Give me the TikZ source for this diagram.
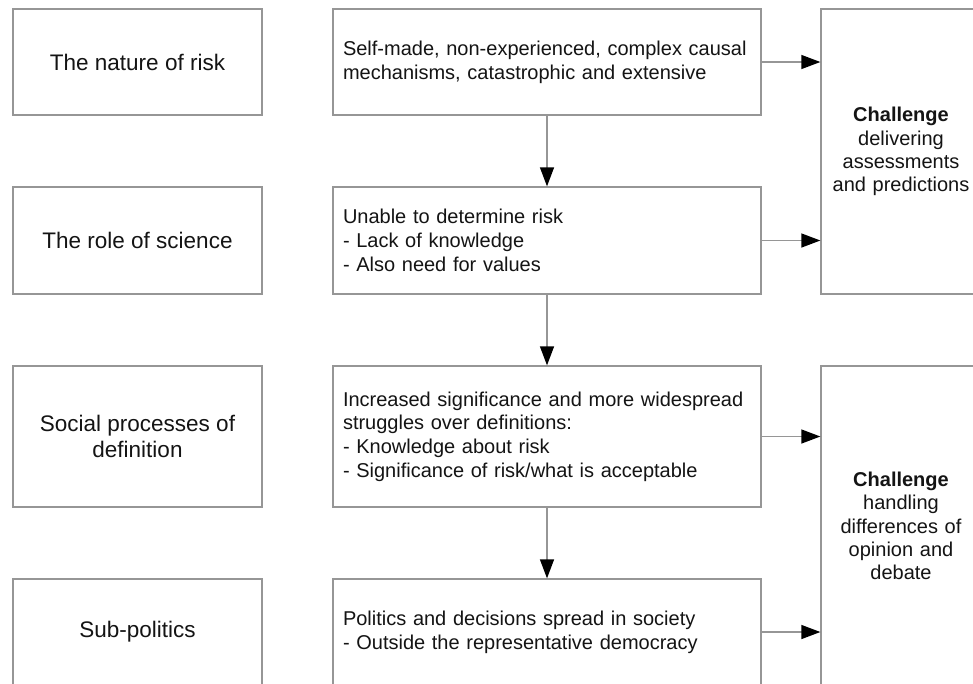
\documentclass[tikz,border=0pt]{standalone}
\usepackage{fontspec}
\setmainfont{Liberation Sans}
\usetikzlibrary{arrows.meta}
\definecolor{linegray}{RGB}{150,150,150}
\definecolor{txt}{RGB}{20,20,20}
\tikzset{
  box/.style={draw=linegray, line width=1.3pt, fill=white, inner sep=0pt, text=txt},
  leftbox/.style={box, minimum width=249pt, font=\fontsize{22.5}{25.5}\selectfont, align=center},
  midbox/.style={box, minimum width=428pt, text width=408pt, font=\fontsize{20}{23.7}\selectfont, align=left},
  rightbox/.style={box, minimum width=160pt, text width=150pt, font=\fontsize{20}{23.2}\selectfont, align=center},
  conn/.style={draw=linegray, line width=1.3pt, -{Triangle[length=19pt,width=14pt,color=black]}}
}
\begin{document}
\begin{tikzpicture}[x=1pt,y=-1pt]
\useasboundingbox (0,0) rectangle (973,683);
\clip (0,0) rectangle (973,683);
% left column
\node[leftbox, minimum height=106pt] (l1) at (137.5,62) {The nature of risk};
\node[leftbox, minimum height=107pt] (l2) at (137.5,240.5) {The role of science};
\node[leftbox, minimum height=141pt] (l3) at (137.5,436.5) {Social processes of\\definition};
\node[leftbox, minimum height=106pt] (l4) at (137.5,632) {Sub-politics};
% middle column
\node[midbox, minimum height=106pt] (m1) at (547,62) {Self-made, non-experienced, complex causal\\mechanisms, catastrophic and extensive};
\node[midbox, minimum height=107pt] (m2) at (547,240.5) {Unable to determine risk\\- Lack of knowledge\\- Also need for values};
\node[midbox, minimum height=141pt] (m3) at (547,436.5) {Increased significance and more widespread\\struggles over definitions:\\- Knowledge about risk\\- Significance of risk/what is acceptable};
\node[midbox, minimum height=106pt] (m4) at (547,632) {Politics and decisions spread in society\\- Outside the representative democracy};
% right column
\node[rightbox, minimum height=285pt] (r1) at (901,151.5) {\textbf{Challenge}\\delivering\\assessments\\and predictions};
\node[rightbox, minimum height=320pt] (r2) at (901,526) {\textbf{Challenge}\\handling\\differences of\\opinion and\\debate};
% connectors
\draw[conn] (m1.south) -- (m2.north);
\draw[conn] (m2.south) -- (m3.north);
\draw[conn] (m3.south) -- (m4.north);
\draw[conn] (m1.east) -- (r1.west |- m1.east);
\draw[conn] (m2.east) -- (r1.west |- m2.east);
\draw[conn] (m3.east) -- (r2.west |- m3.east);
\draw[conn] (m4.east) -- (r2.west |- m4.east);
\end{tikzpicture}
\end{document}
